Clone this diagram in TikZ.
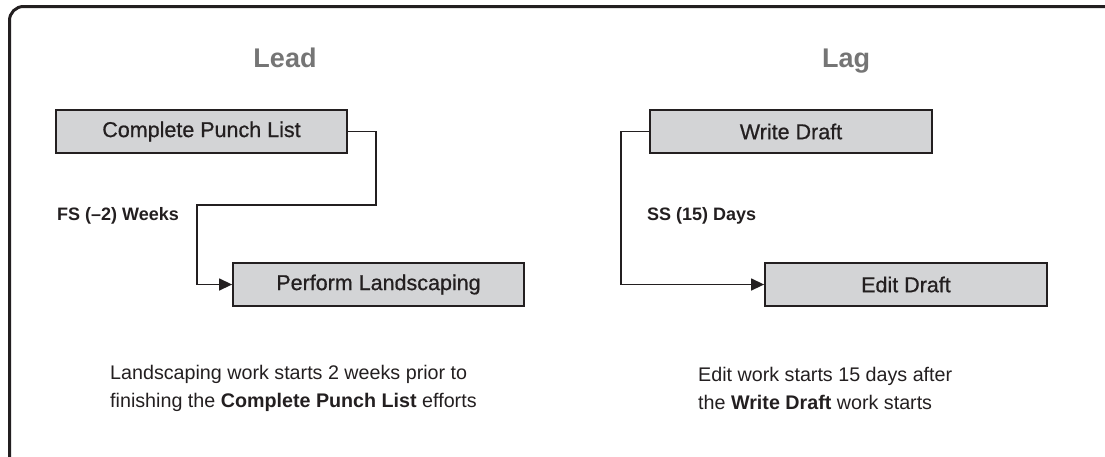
\documentclass[tikz,border=0pt]{standalone}
\usepackage{fontspec}
\setmainfont{Liberation Sans}
\newfontfamily\medfont{Liberation Sans}[BoldFont={Liberation Sans}, BoldFeatures={FakeBold=0.7}]
\usetikzlibrary{arrows.meta}
\definecolor{boxfill}{HTML}{D3D4D6}
\definecolor{ink}{HTML}{231F20}
\definecolor{headgray}{HTML}{757575}
\begin{document}
\begin{tikzpicture}[x=1pt,y=-1pt,
  task/.style={draw=ink, line width=1.8pt, fill=boxfill, minimum height=43pt, inner sep=0pt,
    font=\medfont\bfseries\fontsize{21.5}{25}\selectfont, text=ink},
  link/.style={draw=ink, line width=1.4pt},
  head/.style={font=\fontsize{27}{30}\selectfont\bfseries, text=headgray, anchor=base, inner sep=0pt},
  rel/.style={font=\fontsize{18}{21}\selectfont\bfseries, text=ink, anchor=west, inner sep=0pt},
  note/.style={font=\fontsize{19.7}{28}\selectfont, text=ink, anchor=west, align=left, inner sep=0pt},
  tip/.style={-{Triangle[length=13pt,width=12pt]}}]
\useasboundingbox (0,0) rectangle (1105,456);
\draw[line width=3pt, ink, rounded corners=14pt] (1105,6.5) -- (9.5,6.5) -- (9.5,470) -- (1105,470);

\node[head] (lead) at (285,67) {Lead};
\node[head] (lag) at (846,67) {Lag};

\node[task, minimum width=291pt] (cpl) at (201.5,131.5) {Complete Punch List};
\node[task, minimum width=291pt] (pl) at (378.5,284.5) {Perform Landscaping};
\node[task, minimum width=282pt] (wd) at (791,131.5) {Write Draft};
\node[task, minimum width=282pt] (ed) at (906,284.5) {Edit Draft};

\coordinate (l1) at (376,131.5);
\coordinate (l2) at (376,205);
\coordinate (l3) at (197,205);
\coordinate (l4) at (197,284.5);
\draw[link, tip] (cpl.east) -- (l1) -- (l2) -- (l3) -- (l4) -- (pl.west);

\coordinate (g1) at (621,131.5);
\coordinate (g2) at (621,284.5);
\draw[link, tip] (wd.west) -- (g1) -- (g2) -- (ed.west);

\node[rel] (fs) at (57,216) {FS (–2) Weeks};
\node[rel] (ss) at (647,216) {SS (15) Days};

\node[note] (n1) at (110,388) {Landscaping work starts 2 weeks prior to\\finishing the \textbf{Complete Punch List} efforts};
\node[note] (n2) at (698,388) {Edit work starts 15 days after\\the \textbf{Write Draft} work starts};
\end{tikzpicture}
\end{document}
